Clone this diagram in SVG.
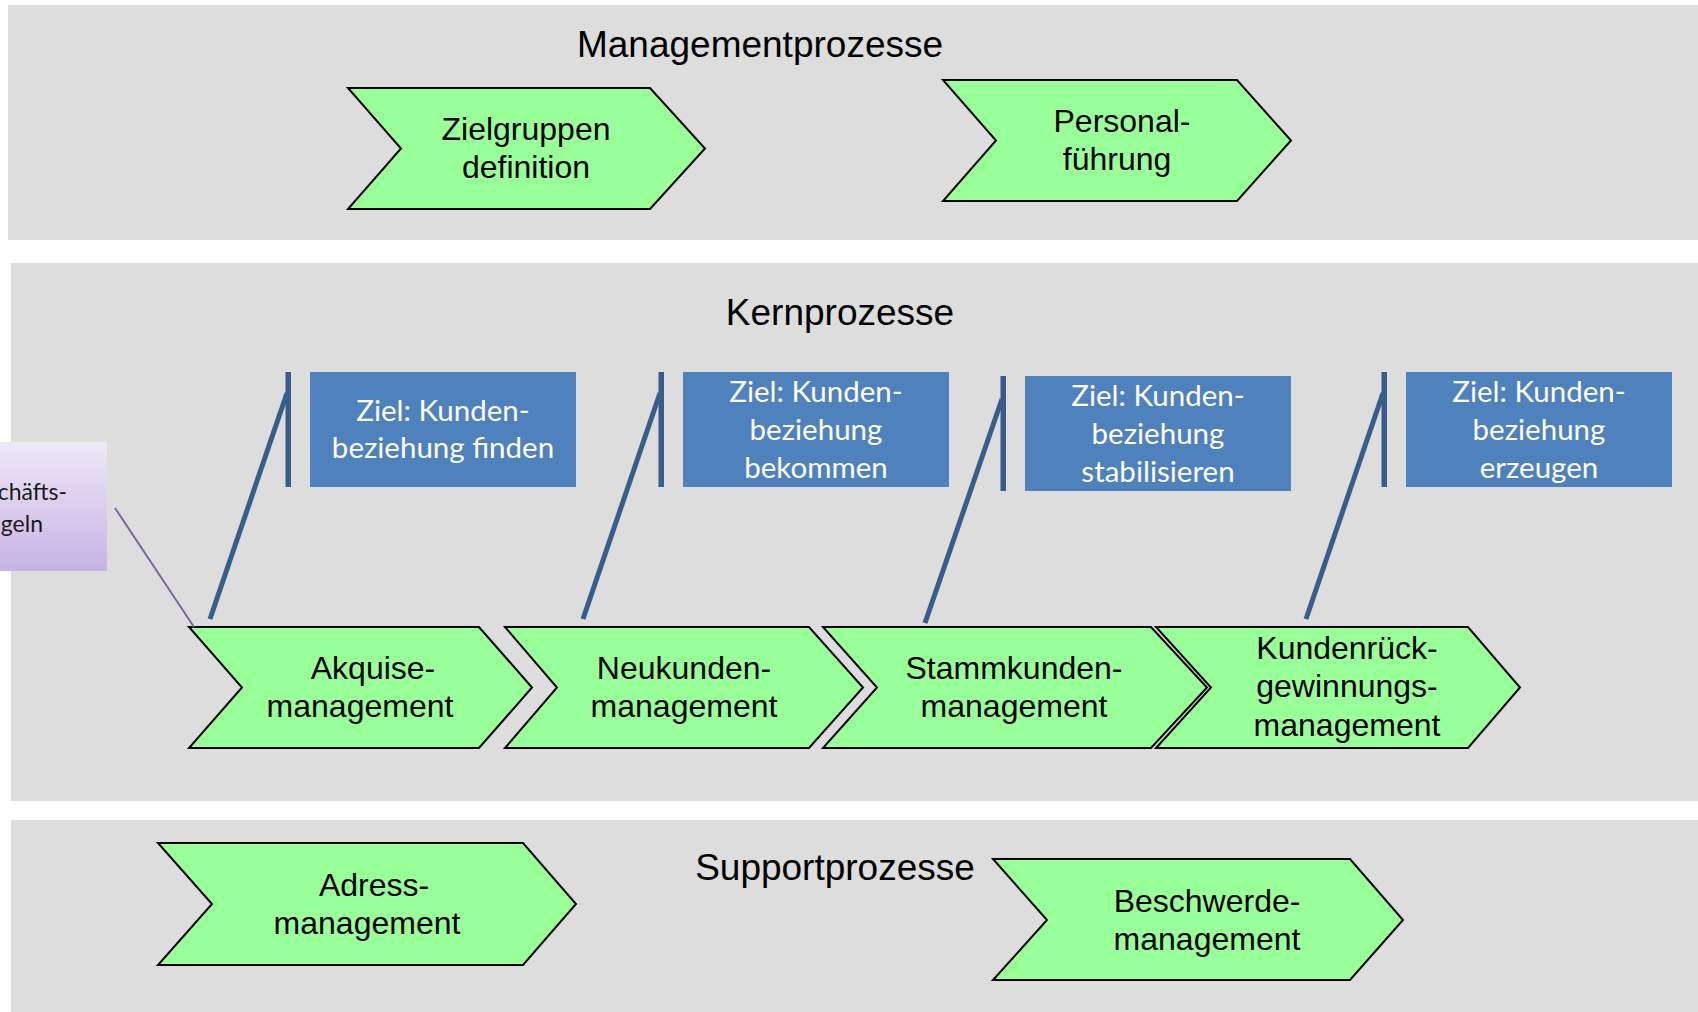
<svg xmlns="http://www.w3.org/2000/svg" width="1698" height="1012" viewBox="0 0 1698 1012">
  <defs>
    <linearGradient id="lilac" x1="0" y1="0" x2="0" y2="1">
      <stop offset="0" stop-color="#EEE8F7"/>
      <stop offset="1" stop-color="#C7B3E4"/>
    </linearGradient>
    <style>
      .band { fill: #DDDDDD; }
      .title { font-family: "Liberation Sans", Arial, sans-serif; font-size: 37px; fill: #000; text-anchor: middle; }
      .chev { fill: #99FF99; stroke: #000; stroke-width: 2; stroke-linejoin: miter; }
      .ctext { font-family: "Liberation Sans", Arial, sans-serif; font-size: 32px; fill: #000; text-anchor: middle; }
      .goal { fill: #4F81BD; }
      .gtext { font-family: Lato, "Open Sans", sans-serif; font-size: 29.5px; fill: #FFFFFF; text-anchor: middle; }
      .bar { fill: #385D8A; }
      .lead { stroke: #385D8A; stroke-width: 5; fill: none; }
      .note { font-family: Lato, "Open Sans", sans-serif; font-size: 23px; fill: #1A1A1A; text-anchor: end; }
    </style>
  </defs>

  <rect width="1698" height="1012" fill="#FFFFFF"/>

  <!-- swimlane bands -->
  <g id="lanes">
    <rect class="band" x="8" y="5" width="1690" height="235"/>
    <rect class="band" x="11" y="263" width="1687" height="538"/>
    <rect class="band" x="11" y="820" width="1687" height="192"/>
    <text class="title" x="760" y="57">Managementprozesse</text>
    <text class="title" x="840" y="325">Kernprozesse</text>
    <text class="title" x="835" y="880">Supportprozesse</text>
  </g>

  <!-- management processes -->
  <g id="zielgruppen">
    <polygon class="chev" points="348,88 650,88 705,148.5 650,209 348,209 401,148.5"/>
    <text class="ctext" x="526" y="140">Zielgruppen</text>
    <text class="ctext" x="526" y="178">definition</text>
  </g>
  <g id="personalfuehrung">
    <polygon class="chev" points="943,80 1237,80 1291,140.5 1237,201 943,201 996,140.5"/>
    <text class="ctext" x="1122" y="132">Personal-</text>
    <text class="ctext" x="1117" y="170">führung</text>
  </g>

  <!-- side note -->
  <g id="geschaeftsregeln">
    <rect x="0" y="442" width="107" height="129" fill="url(#lilac)"/>
    <text class="note" x="67" y="500">chäfts-</text>
    <text class="note" x="43" y="532">geln</text>
  </g>

  <!-- goal boxes -->
  <g id="ziel-finden">
    <rect class="goal" x="310" y="372" width="266" height="115"/>
    <text class="gtext" x="443" y="421">Ziel: Kunden-</text>
    <text class="gtext" x="443" y="458">beziehung finden</text>
  </g>
  <g id="ziel-bekommen">
    <rect class="goal" x="683" y="372" width="266" height="115"/>
    <text class="gtext" x="816" y="402">Ziel: Kunden-</text>
    <text class="gtext" x="816" y="440">beziehung</text>
    <text class="gtext" x="816" y="478">bekommen</text>
  </g>
  <g id="ziel-stabilisieren">
    <rect class="goal" x="1025" y="376" width="266" height="115"/>
    <text class="gtext" x="1158" y="406">Ziel: Kunden-</text>
    <text class="gtext" x="1158" y="444">beziehung</text>
    <text class="gtext" x="1158" y="482">stabilisieren</text>
  </g>
  <g id="ziel-erzeugen">
    <rect class="goal" x="1406" y="372" width="266" height="115"/>
    <text class="gtext" x="1539" y="402">Ziel: Kunden-</text>
    <text class="gtext" x="1539" y="440">beziehung</text>
    <text class="gtext" x="1539" y="478">erzeugen</text>
  </g>

  <!-- core processes -->
  <g id="akquise">
    <polygon class="chev" points="189,627 479,627 532,687.5 479,748 189,748 242,687.5"/>
    <text class="ctext" x="373" y="679">Akquise-</text>
    <text class="ctext" x="360" y="717">management</text>
  </g>
  <g id="neukunden">
    <polygon class="chev" points="505,627 809,627 863,687.5 809,748 505,748 557,687.5"/>
    <text class="ctext" x="684" y="679">Neukunden-</text>
    <text class="ctext" x="684" y="717">management</text>
  </g>
  <g id="stammkunden">
    <polygon class="chev" points="823,627 1151,627 1207,687.5 1151,748 823,748 877,687.5"/>
    <text class="ctext" x="1014" y="679">Stammkunden-</text>
    <text class="ctext" x="1014" y="717">management</text>
  </g>
  <g id="kundenrueckgewinnung">
    <polygon class="chev" points="1156,627 1468,627 1520,687.5 1468,748 1156,748 1211,687.5"/>
    <text class="ctext" x="1347" y="659">Kundenrück-</text>
    <text class="ctext" x="1347" y="697">gewinnungs-</text>
    <text class="ctext" x="1347" y="736">management</text>
  </g>

  <!-- support processes -->
  <g id="adress">
    <polygon class="chev" points="158,843 523,843 576,904 523,965 158,965 212,904"/>
    <text class="ctext" x="374" y="896">Adress-</text>
    <text class="ctext" x="367" y="934">management</text>
  </g>
  <g id="beschwerde">
    <polygon class="chev" points="993,859 1350,859 1403,920 1350,980 993,980 1047,920"/>
    <text class="ctext" x="1207" y="912">Beschwerde-</text>
    <text class="ctext" x="1207" y="950">management</text>
  </g>

  <!-- callout connectors -->
  <g id="connectors">
    <line x1="115" y1="508" x2="194" y2="627" stroke="#7F63A1" stroke-width="2"/>
    <rect class="bar" x="285.5" y="372" width="5.5" height="115"/>
    <line class="lead" x1="287" y1="393" x2="210" y2="619"/>
    <rect class="bar" x="658.5" y="372" width="5.5" height="115"/>
    <line class="lead" x1="660" y1="393" x2="583" y2="619"/>
    <rect class="bar" x="1000.5" y="376" width="5.5" height="115"/>
    <line class="lead" x1="1002" y1="399" x2="925" y2="623"/>
    <rect class="bar" x="1381.5" y="372" width="5.5" height="115"/>
    <line class="lead" x1="1383" y1="393" x2="1306" y2="619"/>
  </g>
</svg>
